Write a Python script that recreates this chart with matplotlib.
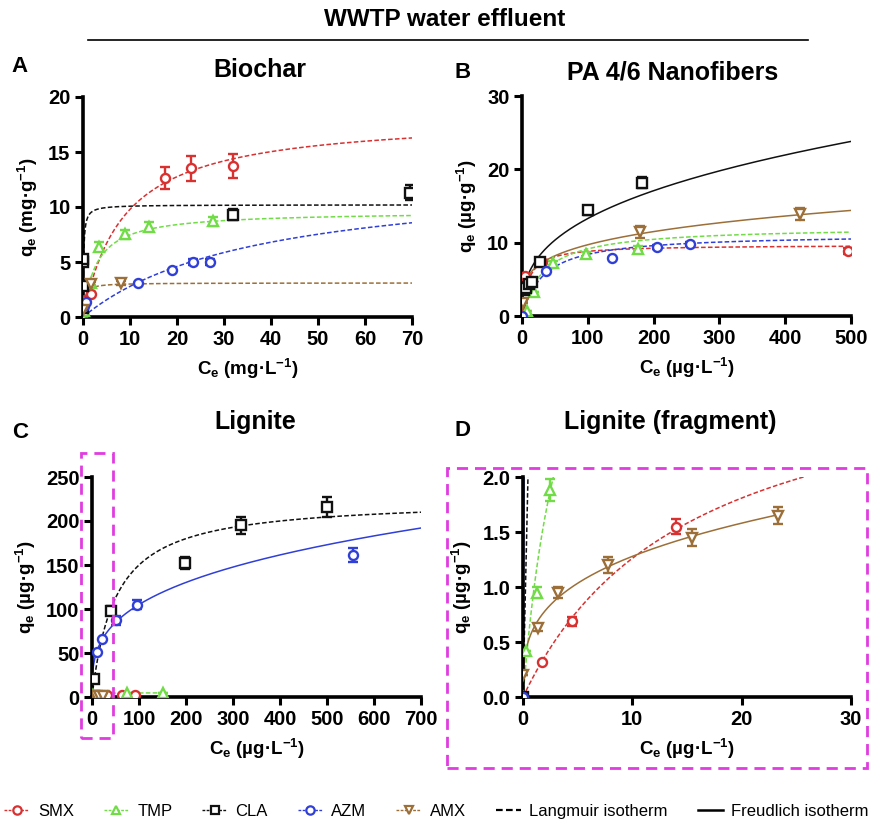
import numpy as np
import matplotlib.pyplot as plt
from matplotlib.lines import Line2D
from matplotlib.patches import Rectangle

plt.rcParams['font.family'] = ['Liberation Sans', 'DejaVu Sans']
plt.rcParams['mathtext.fontset'] = 'custom'
plt.rcParams['mathtext.rm'] = 'Liberation Sans:bold'
plt.rcParams['mathtext.it'] = 'Liberation Sans:bold'
plt.rcParams['mathtext.bf'] = 'Liberation Sans:bold'

series = ['SMX', 'TMP', 'CLA', 'AZM', 'AMX']
colors = {'SMX': '#d93030', 'TMP': '#72dc48', 'CLA': '#111111', 'AZM': '#2f3fd8', 'AMX': '#9c6f38'}
markers = {'SMX': 'o', 'TMP': '^', 'CLA': 's', 'AZM': 'o', 'AMX': 'v'}

# measured points: (Ce, qe, error)
biochar = {
    'SMX': ([0.1, 0.2, 0.5, 1.8, 17.5, 23.0, 32.0], [0.3, 1.2, 1.5, 2.1, 12.6, 13.5, 13.7], [0, 0, 0, 0.2, 1.0, 1.1, 1.1]),
    'TMP': ([0.2, 1.7, 3.4, 9.0, 14.0, 27.7], [0.5, 3.1, 6.4, 7.5, 8.2, 8.7], [0, 0.2, 0.4, 0.4, 0.4, 0.4]),
    'CLA': ([0.1, 0.1, 0.1, 0.1, 32.0, 69.5], [0.8, 2.8, 5.0, 5.3, 9.3, 11.3], [0, 0.2, 0.3, 0.3, 0.5, 0.7]),
    'AZM': ([0.3, 0.7, 11.7, 19.0, 23.5, 27.0], [1.0, 1.4, 3.1, 4.3, 5.0, 5.0], [0, 0, 0, 0, 0.3, 0.3]),
    'AMX': ([0.1, 1.8, 8.0], [0.6, 3.0, 3.1], [0, 0.2, 0.2]),
}
nanofibers = {
    'SMX': ([5, 5, 15, 30, 495], [5.5, 0.4, 4.8, 7.3, 8.9], [0, 0, 0, 0, 0.4]),
    'TMP': ([8, 18, 47, 97, 176], [0.7, 3.3, 7.2, 8.4, 9.2], [0, 0, 0.3, 0.3, 0.4]),
    'CLA': ([3, 6, 10, 15, 27, 100, 182], [3.6, 3.8, 4.3, 4.6, 7.4, 14.4, 18.2], [0, 0, 0, 0, 0, 0.6, 0.7]),
    'AZM': ([0, 37, 137, 205, 255], [0.0, 6.2, 7.9, 9.4, 9.8], [0, 0, 0, 0.3, 0.3]),
    'AMX': ([1, 180, 422], [1.8, 11.5, 13.9], [0, 0.8, 0.8]),
}
lignite = {
    'SMX': ([0, 1.7, 4.5, 14.0, 32, 64, 91], [0.0, 0.32, 0.69, 1.55, 2.2, 2.6, 2.8], [0, 0, 0.04, 0.07, 0, 0, 0]),
    'TMP': ([0, 0.3, 1.3, 2.5, 75, 150], [0.0, 0.42, 0.95, 1.88, 4.5, 4.6], [0, 0, 0.05, 0.1, 0, 0]),
    'CLA': ([0, 5, 40, 198, 318, 500], [0.0, 20, 98, 152, 195, 216], [0, 0, 5, 7, 10, 11]),
    'AZM': ([0, 10, 22, 50, 95, 555], [0.0, 51, 66, 87, 105, 161], [0, 0, 0, 5, 5, 8]),
    'AMX': ([0, 1.4, 3.2, 7.8, 15.5, 23.3], [0.2, 0.63, 0.95, 1.2, 1.45, 1.65], [0, 0.03, 0.05, 0.07, 0.08, 0.08]),
}

# fitted isotherms: (model, p1, p2, curve end)   L: qmax, K   F: Kf, 1/n
biochar_fit = {'SMX': ('L', 18.3, 0.115, 70), 'TMP': ('L', 9.6, 0.35, 70), 'CLA': ('L', 10.2, 8.0, 70),
               'AZM': ('L', 13.1, 0.027, 70), 'AMX': ('L', 3.1, 3.0, 70)}
nanofibers_fit = {'SMX': ('L', 9.7, 0.1, 500), 'TMP': ('L', 12.2, 0.03, 500), 'CLA': ('F', 2.51, 0.362, 500),
                  'AZM': ('L', 11.2, 0.03, 500), 'AMX': ('F', 3.16, 0.244, 500)}
lignite_fit = {'SMX': ('L', 3.2, 0.065, 26), 'TMP': ('L', 4.8, 0.2575, 150), 'CLA': ('L', 225, 0.02, 700),
               'AZM': ('F', 25.2, 0.31, 700), 'AMX': ('F', 0.632, 0.306, 23.3)}


def isotherm(model, p1, p2, c):
    if model == 'L':
        return p1 * p2 * c / (1 + p2 * c)
    return p1 * c ** p2


def draw(ax, data, fits, xlim, ylim, xticks, yticks, unit):
    for s in ['CLA', 'SMX', 'TMP', 'AMX', 'AZM']:
        model, p1, p2, cend = fits[s]
        c = np.linspace(0, cend, 600)
        ls = '--' if model == 'L' else '-'
        ax.plot(c, isotherm(model, p1, p2, c), ls, color=colors[s], lw=1.1,
                dashes=(3, 1.5) if model == 'L' else (None, None), zorder=2)
    for s in series:
        x, y, e = data[s]
        ax.errorbar(x, y, yerr=e, fmt=markers[s], color=colors[s], mfc='white', mec=colors[s],
                    ms=6.5, mew=1.7, elinewidth=1.7, capsize=3.5, capthick=1.7, zorder=4)
    ax.set_xlim(*xlim)
    ax.set_ylim(*ylim)
    ax.set_xticks(xticks)
    ax.set_yticks(yticks)
    ax.spines['top'].set_visible(False)
    ax.spines['right'].set_visible(False)
    ax.spines['left'].set_linewidth(2.6)
    ax.spines['bottom'].set_linewidth(2.6)
    ax.tick_params(width=2.2, length=6, labelsize=14.5, pad=3)
    for lab in ax.get_xticklabels() + ax.get_yticklabels():
        lab.set_fontweight('bold')
    ax.set_xlabel('C$_e$ (' + unit + '·L$^{-1}$)', fontsize=13.5, fontweight='bold', labelpad=6)
    ax.set_ylabel('q$_e$ (' + unit + '·g$^{-1}$)', fontsize=13.5, fontweight='bold', labelpad=6)


fig = plt.figure(figsize=(8.73, 8.22), dpi=100)
W, H = 873, 822


def add_ax(l, t, r, b):
    return fig.add_axes([l / W, 1 - b / H, (r - l) / W, (b - t) / H])


axA = add_ax(83, 97, 412, 317)
axB = add_ax(522, 96, 851, 316)
axC = add_ax(92, 477, 421, 697)
axD = add_ax(523, 477, 851, 697)

draw(axA, biochar, biochar_fit, (0, 70), (0, 20), range(0, 71, 10), range(0, 21, 5), 'mg')
draw(axB, nanofibers, nanofibers_fit, (0, 500), (0, 30), range(0, 501, 100), range(0, 31, 10), 'µg')
draw(axC, lignite, lignite_fit, (0, 700), (0, 250), range(0, 701, 100), range(0, 251, 50), 'µg')
draw(axD, lignite, lignite_fit, (0, 30), (0, 2), range(0, 31, 10), [0, 0.5, 1.0, 1.5, 2.0], 'µg')
axD.set_yticklabels(['0.0', '0.5', '1.0', '1.5', '2.0'])
for lab in axD.get_yticklabels():
    lab.set_fontweight('bold')

# panel titles, letters and header
for txt, x, y in [('Biochar', 260, 70), ('PA 4/6 Nanofibers', 673, 73), ('Lignite', 255, 422),
                  ('Lignite (fragment)', 670, 422)]:
    fig.text(x / W, 1 - y / H, txt, fontsize=18, fontweight='bold', ha='center', va='center')
for txt, x, y in [('A', 20, 67), ('B', 463, 72), ('C', 20, 432), ('D', 462, 430)]:
    fig.text(x / W, 1 - y / H, txt, fontsize=16, fontweight='bold', ha='center', va='center')
fig.text(445 / W, 1 - 20 / H, 'WWTP water effluent', fontsize=17.5, fontweight='bold', ha='center', va='center')
fig.add_artist(Line2D([88 / W, 808 / W], [1 - 40 / H, 1 - 40 / H], color='black', lw=1.2))

# magenta zoom boxes
for x0, y0, x1, y1 in [(81, 453, 113, 738), (447, 468, 867, 768)]:
    fig.add_artist(Rectangle((x0 / W, 1 - y1 / H), (x1 - x0) / W, (y1 - y0) / H, transform=fig.transFigure,
                             fill=False, ec='#e03ce0', lw=2, ls=(0, (4, 2.5))))

handles = [Line2D([], [], color=colors[s], marker=markers[s], mfc='white', mec=colors[s], ms=6, mew=1.6,
                  lw=1, ls=(0, (2, 1))) for s in series]
handles += [Line2D([], [], color='black', lw=1.6, ls=(0, (3, 1.5))), Line2D([], [], color='black', lw=1.8)]
labels = series + ['Langmuir isotherm', 'Freudlich isotherm']
fig.legend(handles, labels, loc='center', bbox_to_anchor=(0.5, 1 - 811 / H), ncol=7, frameon=False,
           fontsize=12, handlelength=1.5, handletextpad=0.5, columnspacing=1.8, borderpad=0.1)

fig.savefig('out.png', dpi=100)
